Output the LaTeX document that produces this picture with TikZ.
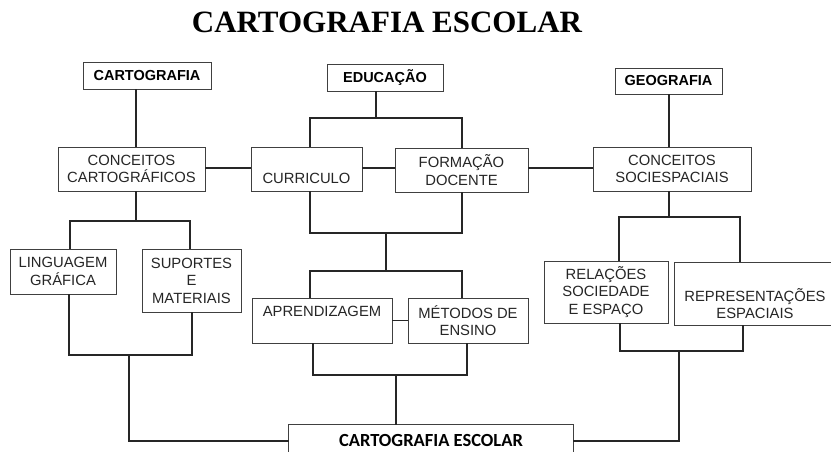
\documentclass[tikz,border=0pt]{standalone}
\usepackage{fontspec}
\setmainfont{Liberation Sans}
\newfontfamily\titlefont{Liberation Serif}
\newfontfamily\calfont{Carlito}
\begin{document}
\begin{tikzpicture}[x=1pt,y=-1pt,
  box/.style={draw=black!75, line width=0.9pt, inner sep=0pt, align=center,
    font=\fontsize{14.8}{17.5}\selectfont, text=black!85},
  hbox/.style={box, font=\fontsize{14.5}{17.5}\selectfont\bfseries, text=black},
  lbl/.style={inner sep=0pt, align=center, font=\fontsize{14.8}{17.5}\selectfont, text=black!85},
  conn/.style={draw=black!85, line width=1.2pt, line cap=rect}]
\useasboundingbox (0,0) rectangle (831,452);
\fill[white] (0,0) rectangle (831,452);

\node[anchor=base, inner sep=0pt, font=\titlefont\fontsize{31}{31}\selectfont\bfseries] (title) at (387,33) {CARTOGRAFIA ESCOLAR};

% header boxes
\node[hbox, minimum width=128, minimum height=27] (cart) at (147,75.5) {CARTOGRAFIA};
\node[hbox, minimum width=116, minimum height=27] (educ) at (385,77.5) {EDUCAÇÃO};
\node[hbox, minimum width=107, minimum height=26] (geo) at (668.5,81) {GEOGRAFIA};

% second row
\node[box, minimum width=147, minimum height=44] (concC) at (131.5,169) {CONCEITOS\\CARTOGRÁFICOS};
\node[box, minimum width=111, minimum height=44] (curr) at (306.5,169) {};
\node[lbl] (currt) at ([yshift=-9pt]curr.center) {CURRICULO};
\node[box, minimum width=133, minimum height=44] (form) at (461.5,170) {FORMAÇÃO\\DOCENTE};
\node[box, minimum width=158, minimum height=44] (concS) at (672,169) {CONCEITOS\\SOCIESPACIAIS};

% third row
\node[box, minimum width=106, minimum height=45] (ling) at (63,271.5) {LINGUAGEM\\GRÁFICA};
\node[box, minimum width=99, minimum height=63] (sup) at (191.5,280.5) {SUPORTES\\E\\MATERIAIS};
\node[box, minimum width=140, minimum height=45] (aprend) at (322,320.5) {};
\node[lbl] (aprendt) at ([yshift=9.5pt]aprend.center) {APRENDIZAGEM};
\node[box, minimum width=120, minimum height=45] (metod) at (468,320.5) {MÉTODOS DE\\ENSINO};
\node[box, minimum width=124, minimum height=62] (rel) at (606,292) {RELAÇÕES\\SOCIEDADE\\E ESPAÇO};
\node[box, minimum width=162, minimum height=63] (rep) at (755,293.5) {};
\node[lbl] (rept) at ([yshift=-10pt]rep.center) {REPRESENTAÇÕES\\ESPACIAIS};

% bottom box (cut off by the lower edge)
\node[inner sep=0pt, minimum width=284, minimum height=28] (esc) at (431,439) {};
\draw[draw=black!75, line width=0.9pt] (esc.south west) -- (esc.north west) -- (esc.north east) -- (esc.south east);
\node[inner sep=0pt, font=\calfont\fontsize{18.5}{18.5}\selectfont\bfseries] (esct) at (431,440) {CARTOGRAFIA ESCOLAR};

% coordinates
\coordinate (h1) at (0,168);
\coordinate (kC) at (136,221);
\coordinate (kCl) at (70,221);
\coordinate (kCr) at (190,221);
\coordinate (kE) at (376,118);
\coordinate (kEl) at (310,118);
\coordinate (kEr) at (462,118);
\coordinate (kG) at (669,217);
\coordinate (kGl) at (619,217);
\coordinate (kGr) at (740,217);
\coordinate (mA) at (386,233);
\coordinate (mAl) at (310,233);
\coordinate (mAr) at (462,233);
\coordinate (mB) at (386,271);
\coordinate (mBl) at (310,271);
\coordinate (mBr) at (462,271);
\coordinate (mC) at (396,375);
\coordinate (mCl) at (313,375);
\coordinate (mCr) at (467,375);
\coordinate (lA) at (129,355);
\coordinate (lAl) at (69,355);
\coordinate (lAr) at (192,355);
\coordinate (lB) at (129,441);
\coordinate (rA) at (679,351);
\coordinate (rAl) at (620,351);
\coordinate (rAr) at (743,351);
\coordinate (rB) at (679,441);

% left column
\draw[conn] (cart.south -| kC) -- (concC.north -| kC);
\draw[conn] (concC.south -| kC) -- (kC);
\draw[conn] (ling.north -| kCl) -- (kCl) -- (kCr) -- (sup.north -| kCr);
\draw[conn] (ling.south -| lAl) -- (lAl) -- (lAr) -- (sup.south -| lAr);
\draw[conn] (lA) -- (lB) -- (esc.west |- lB);

% horizontal links
\draw[conn] (concC.east |- h1) -- (curr.west |- h1);
\draw[conn] (curr.east |- h1) -- (form.west |- h1);
\draw[conn] (form.east |- h1) -- (concS.west |- h1);

% middle column
\draw[conn] (educ.south -| kE) -- (kE);
\draw[conn] (curr.north -| kEl) -- (kEl) -- (kEr) -- (form.north -| kEr);
\draw[conn] (curr.south -| mAl) -- (mAl) -- (mAr) -- (form.south -| mAr);
\draw[conn] (mA) -- (mB);
\draw[conn] (aprend.north -| mBl) -- (mBl) -- (mBr) -- (metod.north -| mBr);
\draw[conn] (aprend.east) -- (metod.west |- aprend.east);
\draw[conn] (aprend.south -| mCl) -- (mCl) -- (mCr) -- (metod.south -| mCr);
\draw[conn] (mC) -- (esc.north -| mC);

% right column
\draw[conn] (geo.south -| kG) -- (concS.north -| kG);
\draw[conn] (concS.south -| kG) -- (kG);
\draw[conn] (rel.north -| kGl) -- (kGl) -- (kGr) -- (rep.north -| kGr);
\draw[conn] (rel.south -| rAl) -- (rAl) -- (rAr) -- (rep.south -| rAr);
\draw[conn] (rA) -- (rB) -- (esc.east |- rB);
\end{tikzpicture}
\end{document}
